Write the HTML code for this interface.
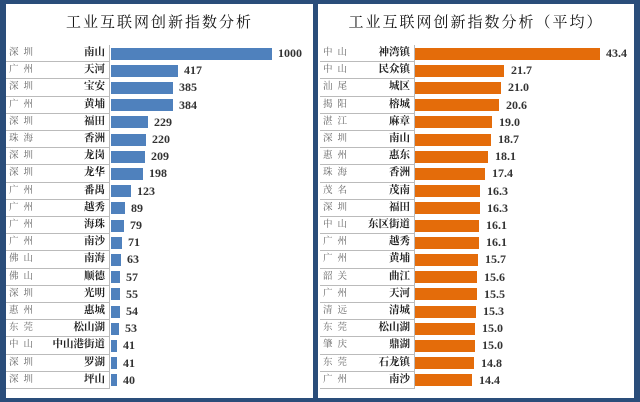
<!DOCTYPE html>
<html><head><meta charset="utf-8"><style>
*{margin:0;padding:0;box-sizing:border-box}
body{width:640px;height:402px;background:#2a4d7a;position:relative;overflow:hidden;font-family:"Liberation Serif","Noto Serif CJK SC",serif}
.p{position:absolute;background:#fff;top:4px;height:394px}
.t{position:absolute;top:7px;left:0;right:0;text-align:center;font-size:15px;letter-spacing:2px;color:#111;font-family:"Noto Serif CJK SC",serif}
.r{position:absolute;height:17.2px;left:0;right:0}
.lb{position:absolute;top:0;height:17.2px;border-bottom:1.5px solid #bbb;border-right:1.5px solid #bbb;font-size:10.5px;line-height:16px;font-weight:bold;color:#222}
.c{position:absolute;left:3px;color:#666;font-weight:normal;letter-spacing:5px;font-size:9.5px}
.d{position:absolute;right:4px}
.b{position:absolute;top:2.5px;height:12px}
.v{position:absolute;top:0;font-size:12px;line-height:17px;font-weight:bold;color:#333;font-family:"Liberation Serif",serif}
</style></head><body>
<div class="p" style="left:6px;width:307px">
<div class="t">工业互联网创新指数分析</div>
<div style="position:absolute;top:41px;left:0;right:0">
<div class="r" style="top:0px"><div class="lb" style="left:0;width:104px"><span class="c">深圳</span><span class="d">南山</span></div><div class="b" style="left:105px;width:161px;background:#4f81bd"></div><div class="v" style="left:272px">1000</div></div>
<div class="r" style="top:17.2px"><div class="lb" style="left:0;width:104px"><span class="c">广州</span><span class="d">天河</span></div><div class="b" style="left:105px;width:67px;background:#4f81bd"></div><div class="v" style="left:178px">417</div></div>
<div class="r" style="top:34.4px"><div class="lb" style="left:0;width:104px"><span class="c">深圳</span><span class="d">宝安</span></div><div class="b" style="left:105px;width:62px;background:#4f81bd"></div><div class="v" style="left:173px">385</div></div>
<div class="r" style="top:51.6px"><div class="lb" style="left:0;width:104px"><span class="c">广州</span><span class="d">黄埔</span></div><div class="b" style="left:105px;width:62px;background:#4f81bd"></div><div class="v" style="left:173px">384</div></div>
<div class="r" style="top:68.8px"><div class="lb" style="left:0;width:104px"><span class="c">深圳</span><span class="d">福田</span></div><div class="b" style="left:105px;width:37px;background:#4f81bd"></div><div class="v" style="left:148px">229</div></div>
<div class="r" style="top:86px"><div class="lb" style="left:0;width:104px"><span class="c">珠海</span><span class="d">香洲</span></div><div class="b" style="left:105px;width:35px;background:#4f81bd"></div><div class="v" style="left:146px">220</div></div>
<div class="r" style="top:103.2px"><div class="lb" style="left:0;width:104px"><span class="c">深圳</span><span class="d">龙岗</span></div><div class="b" style="left:105px;width:34px;background:#4f81bd"></div><div class="v" style="left:145px">209</div></div>
<div class="r" style="top:120.4px"><div class="lb" style="left:0;width:104px"><span class="c">深圳</span><span class="d">龙华</span></div><div class="b" style="left:105px;width:32px;background:#4f81bd"></div><div class="v" style="left:143px">198</div></div>
<div class="r" style="top:137.6px"><div class="lb" style="left:0;width:104px"><span class="c">广州</span><span class="d">番禺</span></div><div class="b" style="left:105px;width:20px;background:#4f81bd"></div><div class="v" style="left:131px">123</div></div>
<div class="r" style="top:154.8px"><div class="lb" style="left:0;width:104px"><span class="c">广州</span><span class="d">越秀</span></div><div class="b" style="left:105px;width:14px;background:#4f81bd"></div><div class="v" style="left:125px">89</div></div>
<div class="r" style="top:172px"><div class="lb" style="left:0;width:104px"><span class="c">广州</span><span class="d">海珠</span></div><div class="b" style="left:105px;width:13px;background:#4f81bd"></div><div class="v" style="left:124px">79</div></div>
<div class="r" style="top:189.2px"><div class="lb" style="left:0;width:104px"><span class="c">广州</span><span class="d">南沙</span></div><div class="b" style="left:105px;width:11px;background:#4f81bd"></div><div class="v" style="left:122px">71</div></div>
<div class="r" style="top:206.4px"><div class="lb" style="left:0;width:104px"><span class="c">佛山</span><span class="d">南海</span></div><div class="b" style="left:105px;width:10px;background:#4f81bd"></div><div class="v" style="left:121px">63</div></div>
<div class="r" style="top:223.6px"><div class="lb" style="left:0;width:104px"><span class="c">佛山</span><span class="d">顺德</span></div><div class="b" style="left:105px;width:9px;background:#4f81bd"></div><div class="v" style="left:120px">57</div></div>
<div class="r" style="top:240.8px"><div class="lb" style="left:0;width:104px"><span class="c">深圳</span><span class="d">光明</span></div><div class="b" style="left:105px;width:9px;background:#4f81bd"></div><div class="v" style="left:120px">55</div></div>
<div class="r" style="top:258px"><div class="lb" style="left:0;width:104px"><span class="c">惠州</span><span class="d">惠城</span></div><div class="b" style="left:105px;width:9px;background:#4f81bd"></div><div class="v" style="left:120px">54</div></div>
<div class="r" style="top:275.2px"><div class="lb" style="left:0;width:104px"><span class="c">东莞</span><span class="d">松山湖</span></div><div class="b" style="left:105px;width:8px;background:#4f81bd"></div><div class="v" style="left:119px">53</div></div>
<div class="r" style="top:292.4px"><div class="lb" style="left:0;width:104px"><span class="c">中山</span><span class="d">中山港街道</span></div><div class="b" style="left:105px;width:6px;background:#4f81bd"></div><div class="v" style="left:117px">41</div></div>
<div class="r" style="top:309.6px"><div class="lb" style="left:0;width:104px"><span class="c">深圳</span><span class="d">罗湖</span></div><div class="b" style="left:105px;width:6px;background:#4f81bd"></div><div class="v" style="left:117px">41</div></div>
<div class="r" style="top:326.8px"><div class="lb" style="left:0;width:104px"><span class="c">深圳</span><span class="d">坪山</span></div><div class="b" style="left:105px;width:6px;background:#4f81bd"></div><div class="v" style="left:117px">40</div></div>
</div></div>
<div class="p" style="left:318px;width:316px">
<div class="t">工业互联网创新指数分析（平均）</div>
<div style="position:absolute;top:41px;left:0;right:0">
<div class="r" style="top:0px"><div class="lb" style="left:2px;width:95px"><span class="c">中山</span><span class="d">神湾镇</span></div><div class="b" style="left:97px;width:185px;background:#e46c0a"></div><div class="v" style="left:288px">43.4</div></div>
<div class="r" style="top:17.2px"><div class="lb" style="left:2px;width:95px"><span class="c">中山</span><span class="d">民众镇</span></div><div class="b" style="left:97px;width:89px;background:#e46c0a"></div><div class="v" style="left:193px">21.7</div></div>
<div class="r" style="top:34.4px"><div class="lb" style="left:2px;width:95px"><span class="c">汕尾</span><span class="d">城区</span></div><div class="b" style="left:97px;width:86px;background:#e46c0a"></div><div class="v" style="left:190px">21.0</div></div>
<div class="r" style="top:51.6px"><div class="lb" style="left:2px;width:95px"><span class="c">揭阳</span><span class="d">榕城</span></div><div class="b" style="left:97px;width:84px;background:#e46c0a"></div><div class="v" style="left:188px">20.6</div></div>
<div class="r" style="top:68.8px"><div class="lb" style="left:2px;width:95px"><span class="c">湛江</span><span class="d">麻章</span></div><div class="b" style="left:97px;width:77px;background:#e46c0a"></div><div class="v" style="left:181px">19.0</div></div>
<div class="r" style="top:86px"><div class="lb" style="left:2px;width:95px"><span class="c">深圳</span><span class="d">南山</span></div><div class="b" style="left:97px;width:76px;background:#e46c0a"></div><div class="v" style="left:180px">18.7</div></div>
<div class="r" style="top:103.2px"><div class="lb" style="left:2px;width:95px"><span class="c">惠州</span><span class="d">惠东</span></div><div class="b" style="left:97px;width:73px;background:#e46c0a"></div><div class="v" style="left:177px">18.1</div></div>
<div class="r" style="top:120.4px"><div class="lb" style="left:2px;width:95px"><span class="c">珠海</span><span class="d">香洲</span></div><div class="b" style="left:97px;width:70px;background:#e46c0a"></div><div class="v" style="left:174px">17.4</div></div>
<div class="r" style="top:137.6px"><div class="lb" style="left:2px;width:95px"><span class="c">茂名</span><span class="d">茂南</span></div><div class="b" style="left:97px;width:65px;background:#e46c0a"></div><div class="v" style="left:169px">16.3</div></div>
<div class="r" style="top:154.8px"><div class="lb" style="left:2px;width:95px"><span class="c">深圳</span><span class="d">福田</span></div><div class="b" style="left:97px;width:65px;background:#e46c0a"></div><div class="v" style="left:169px">16.3</div></div>
<div class="r" style="top:172px"><div class="lb" style="left:2px;width:95px"><span class="c">中山</span><span class="d">东区街道</span></div><div class="b" style="left:97px;width:64px;background:#e46c0a"></div><div class="v" style="left:168px">16.1</div></div>
<div class="r" style="top:189.2px"><div class="lb" style="left:2px;width:95px"><span class="c">广州</span><span class="d">越秀</span></div><div class="b" style="left:97px;width:64px;background:#e46c0a"></div><div class="v" style="left:168px">16.1</div></div>
<div class="r" style="top:206.4px"><div class="lb" style="left:2px;width:95px"><span class="c">广州</span><span class="d">黄埔</span></div><div class="b" style="left:97px;width:63px;background:#e46c0a"></div><div class="v" style="left:167px">15.7</div></div>
<div class="r" style="top:223.6px"><div class="lb" style="left:2px;width:95px"><span class="c">韶关</span><span class="d">曲江</span></div><div class="b" style="left:97px;width:62px;background:#e46c0a"></div><div class="v" style="left:166px">15.6</div></div>
<div class="r" style="top:240.8px"><div class="lb" style="left:2px;width:95px"><span class="c">广州</span><span class="d">天河</span></div><div class="b" style="left:97px;width:62px;background:#e46c0a"></div><div class="v" style="left:166px">15.5</div></div>
<div class="r" style="top:258px"><div class="lb" style="left:2px;width:95px"><span class="c">清远</span><span class="d">清城</span></div><div class="b" style="left:97px;width:61px;background:#e46c0a"></div><div class="v" style="left:165px">15.3</div></div>
<div class="r" style="top:275.2px"><div class="lb" style="left:2px;width:95px"><span class="c">东莞</span><span class="d">松山湖</span></div><div class="b" style="left:97px;width:60px;background:#e46c0a"></div><div class="v" style="left:164px">15.0</div></div>
<div class="r" style="top:292.4px"><div class="lb" style="left:2px;width:95px"><span class="c">肇庆</span><span class="d">鼎湖</span></div><div class="b" style="left:97px;width:60px;background:#e46c0a"></div><div class="v" style="left:164px">15.0</div></div>
<div class="r" style="top:309.6px"><div class="lb" style="left:2px;width:95px"><span class="c">东莞</span><span class="d">石龙镇</span></div><div class="b" style="left:97px;width:59px;background:#e46c0a"></div><div class="v" style="left:163px">14.8</div></div>
<div class="r" style="top:326.8px"><div class="lb" style="left:2px;width:95px"><span class="c">广州</span><span class="d">南沙</span></div><div class="b" style="left:97px;width:57px;background:#e46c0a"></div><div class="v" style="left:161px">14.4</div></div>
</div></div>
</body></html>
